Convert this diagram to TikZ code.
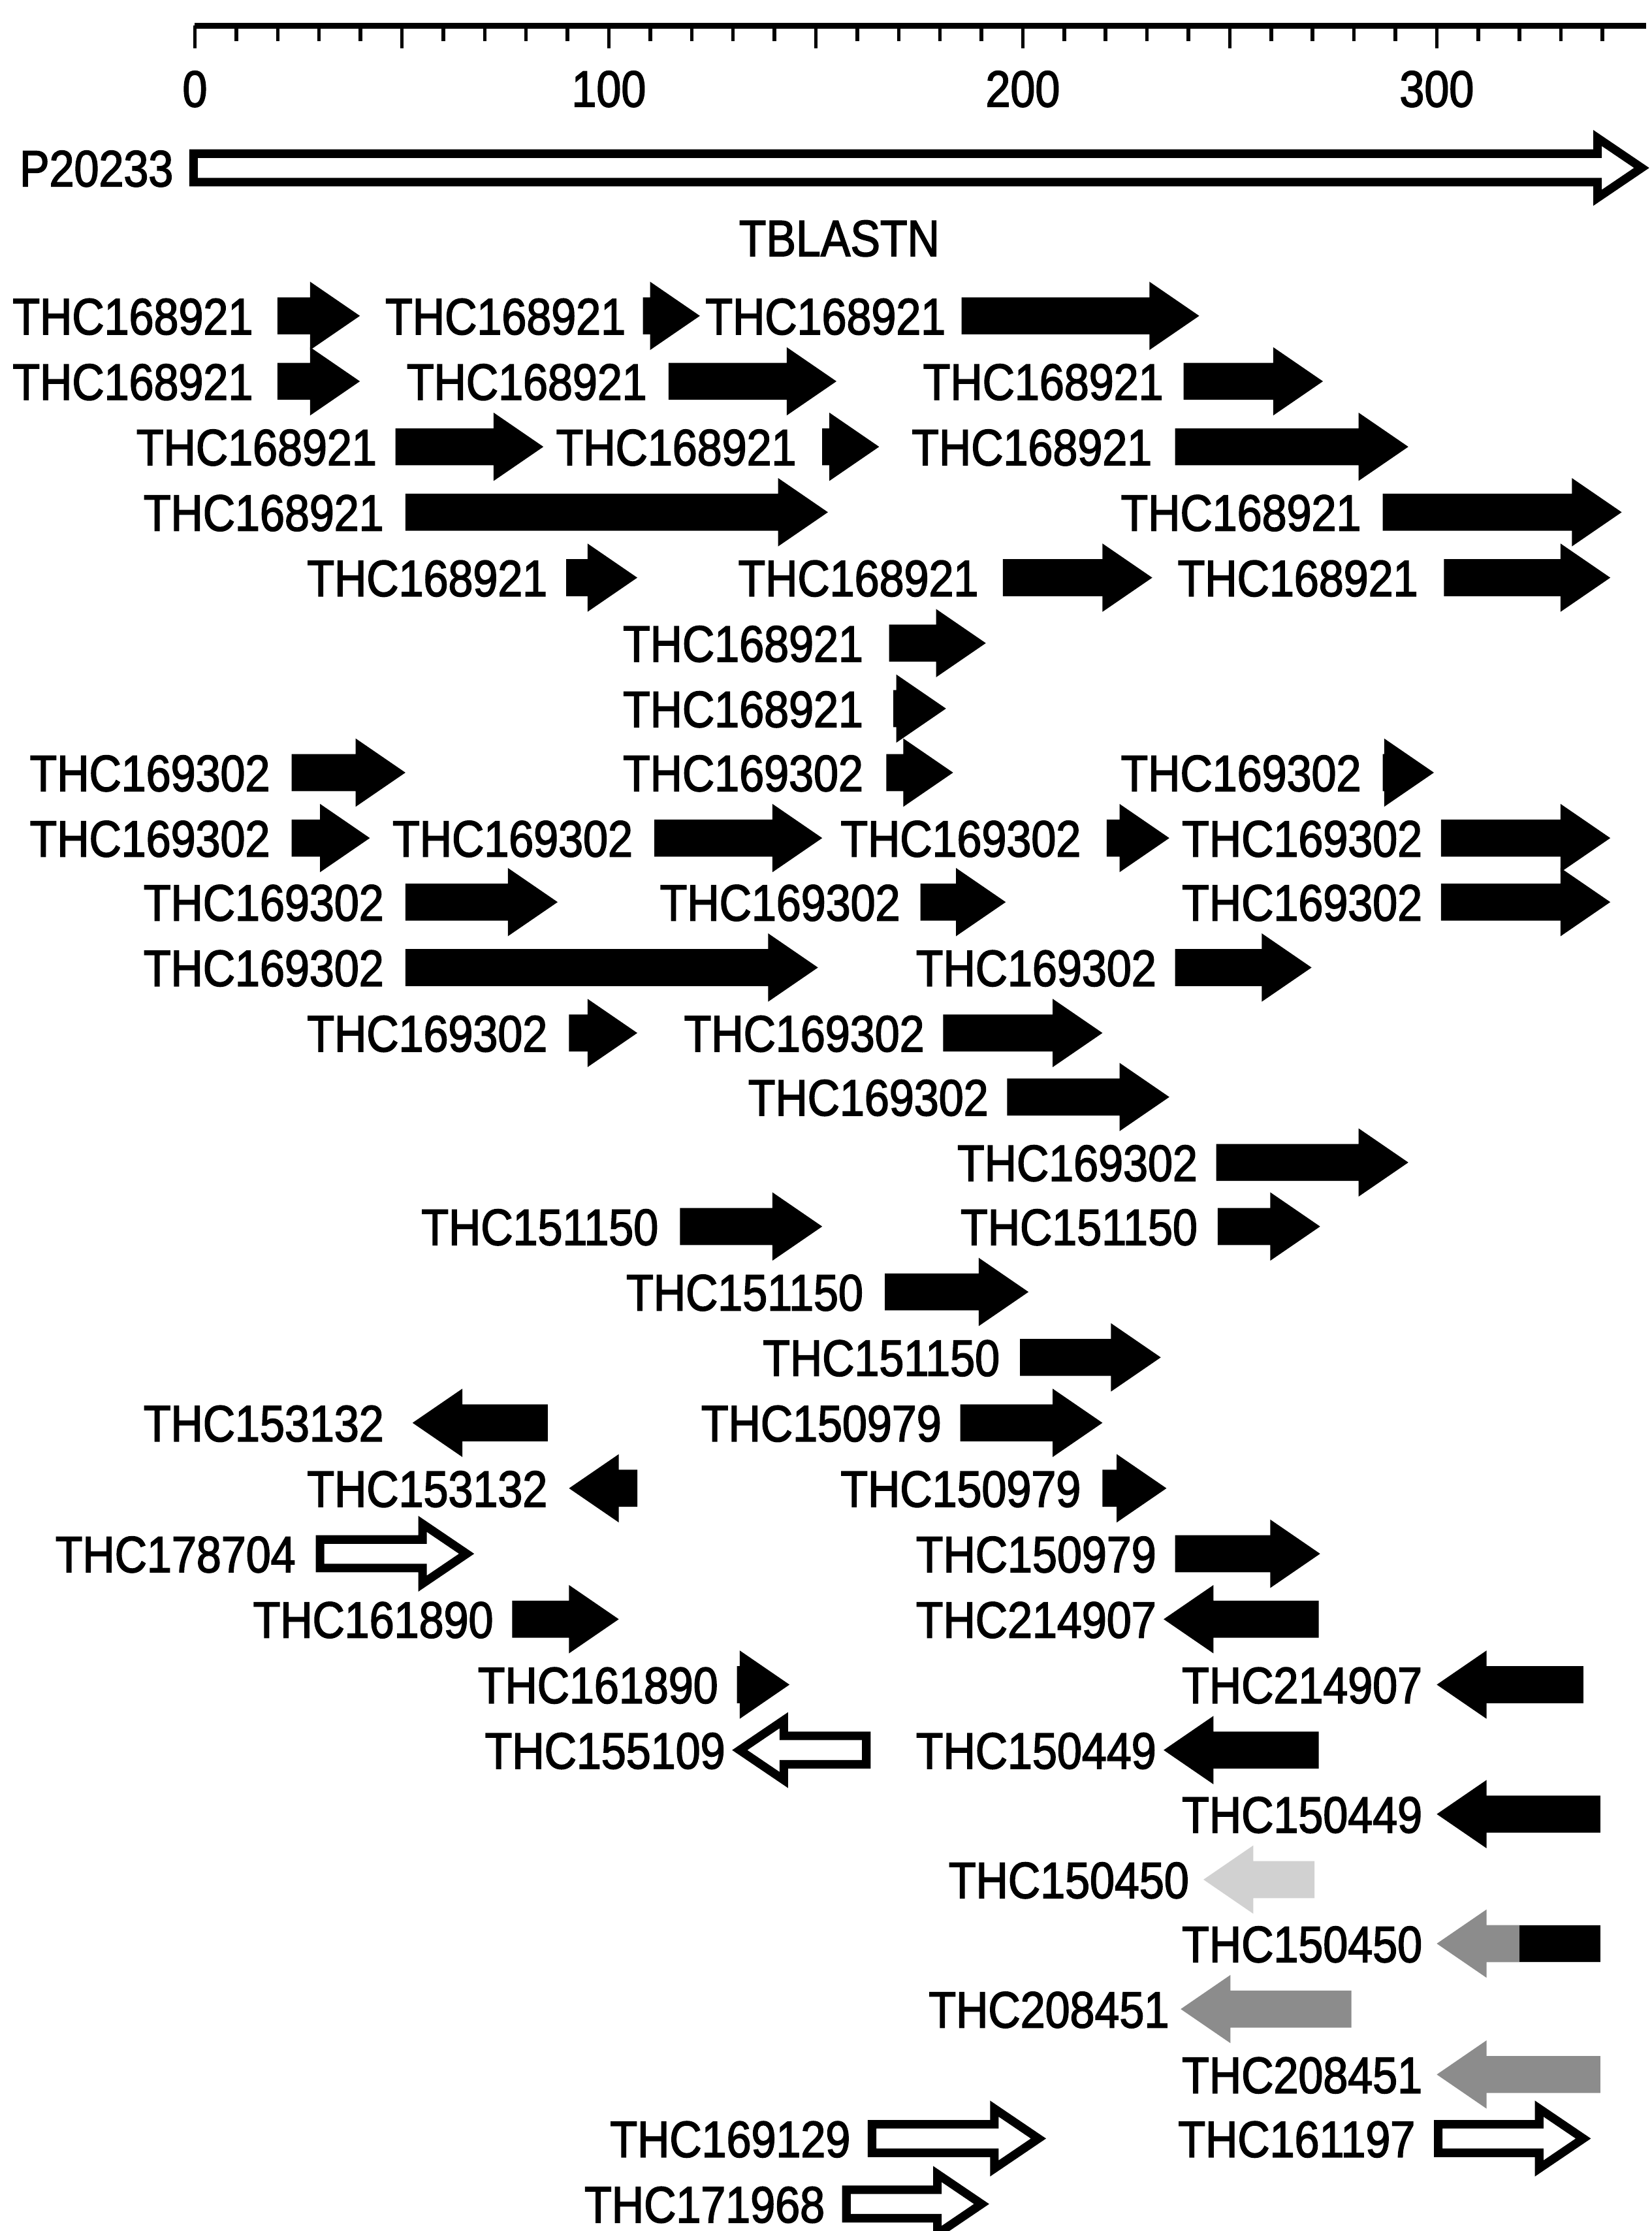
\documentclass[tikz,border=0pt]{standalone}
\usepackage{fontspec}
\setmainfont{Liberation Sans}[FakeStretch=0.87,FakeBold=2]
\tikzset{
  lbl/.style={anchor=east, inner sep=0pt, text height=26pt, text depth=0pt, font=\fontsize{36}{40}\selectfont},
  axlbl/.style={anchor=center, inner sep=0pt, text height=26pt, text depth=0pt, font=\fontsize{36}{40}\selectfont},
  solidarr/.style={fill=black},
  lightarr/.style={fill=black!18},
  greyarr/.style={fill=black!45},
  openarr/.style={draw=black, fill=white, line width=6pt, miter limit=10},
  axisline/.style={line width=4pt},
  tickline/.style={line width=2.5pt}
}
% right-pointing filled arrow: y, x start, x tip
\newcommand\RA[4][solidarr]{%
  \pgfmathsetmacro\hs{max(#3,#4-35)}%
  \path[#1] (#3,#2-13) -- (\hs,#2-13) -- (\hs,#2-24) -- (#4,#2) -- (\hs,#2+24) -- (\hs,#2+13) -- (#3,#2+13) -- cycle;}
% left-pointing filled arrow: y, x tip, x tail
\newcommand\LA[4][solidarr]{%
  \pgfmathsetmacro\hs{min(#4,#3+35)}%
  \path[#1] (#4,#2-13) -- (\hs,#2-13) -- (\hs,#2-24) -- (#3,#2) -- (\hs,#2+24) -- (\hs,#2+13) -- (#4,#2+13) -- cycle;}
% right-pointing open arrow
\newcommand\RO[3]{%
  \pgfmathsetmacro\hs{#3-36}%
  \path[openarr] (#2+3,#1-10) -- (\hs,#1-10) -- (\hs,#1-21) -- (#3-5,#1) -- (\hs,#1+21) -- (\hs,#1+10) -- (#2+3,#1+10) -- cycle;}
% left-pointing open arrow
\newcommand\LO[3]{%
  \pgfmathsetmacro\hs{#2+36}%
  \path[openarr] (#3-3,#1-10) -- (\hs,#1-10) -- (\hs,#1-21) -- (#2+5,#1) -- (\hs,#1+21) -- (\hs,#1+10) -- (#3-3,#1+10) -- cycle;}
\newcommand\LB[4]{\node[lbl] (#1) at (#2,#3) {#4};}
\begin{document}
\begin{tikzpicture}[x=1pt,y=-1pt]
\useasboundingbox[fill=white] (0,0) rectangle (1161,1568);
% scale
\draw[axisline] (137,18) -- (1157,18);
\foreach \k in {0,...,34}{
  \pgfmathsetmacro\tx{137+29.1*\k}
  \pgfmathtruncatemacro\md{mod(\k,5)}
  \ifnum\md=0 \draw[tickline] (\tx,18) -- (\tx,34); \else \draw[tickline] (\tx,18) -- (\tx,29); \fi
}
\node[axlbl] (t0) at (137,62) {0};
\node[axlbl] (t100) at (428,62) {100};
\node[axlbl] (t200) at (719,62) {200};
\node[axlbl] (t300) at (1010,62) {300};
% query
\LB{p}{122}{118}{P20233}
\RO{118}{133}{1159}
\node[axlbl] (tb) at (590,167) {TBLASTN};
% row 1
\LB{r1a}{178}{222}{THC168921} \RA{222}{195}{253}
\LB{r1b}{440}{222}{THC168921} \RA{222}{452}{492}
\LB{r1c}{665}{222}{THC168921} \RA{222}{676}{843}
% row 2
\LB{r2a}{178}{268}{THC168921} \RA{268}{195}{253}
\LB{r2b}{455}{268}{THC168921} \RA{268}{470}{588}
\LB{r2c}{818}{268}{THC168921} \RA{268}{832}{930}
% row 3
\LB{r3a}{265}{314}{THC168921} \RA{314}{278}{382}
\LB{r3b}{560}{314}{THC168921} \RA{314}{578}{618}
\LB{r3c}{810}{314}{THC168921} \RA{314}{826}{990}
% row 4
\LB{r4a}{270}{360}{THC168921} \RA{360}{285}{582}
\LB{r4b}{957}{360}{THC168921} \RA{360}{972}{1140}
% row 5
\LB{r5a}{385}{406}{THC168921} \RA{406}{398}{448}
\LB{r5b}{688}{406}{THC168921} \RA{406}{705}{810}
\LB{r5c}{997}{406}{THC168921} \RA{406}{1015}{1132}
% row 6, 7
\LB{r6a}{607}{452}{THC168921} \RA{452}{625}{693}
\LB{r7a}{607}{498}{THC168921} \RA{498}{628}{665}
% row 8
\LB{r8a}{190}{543}{THC169302} \RA{543}{205}{285}
\LB{r8b}{607}{543}{THC169302} \RA{543}{623}{670}
\LB{r8c}{957}{543}{THC169302} \RA{543}{972}{1008}
% row 9
\LB{r9a}{190}{589}{THC169302} \RA{589}{205}{260}
\LB{r9b}{445}{589}{THC169302} \RA{589}{460}{578}
\LB{r9c}{760}{589}{THC169302} \RA{589}{778}{822}
\LB{r9d}{1000}{589}{THC169302} \RA{589}{1013}{1132}
% row 10
\LB{r10a}{270}{634}{THC169302} \RA{634}{285}{392}
\LB{r10b}{633}{634}{THC169302} \RA{634}{647}{707}
\LB{r10c}{1000}{634}{THC169302} \RA{634}{1013}{1132}
% row 11
\LB{r11a}{270}{680}{THC169302} \RA{680}{285}{575}
\LB{r11b}{813}{680}{THC169302} \RA{680}{826}{922}
% row 12
\LB{r12a}{385}{726}{THC169302} \RA{726}{400}{448}
\LB{r12b}{650}{726}{THC169302} \RA{726}{663}{775}
% row 13, 14
\LB{r13a}{695}{771}{THC169302} \RA{771}{708}{822}
\LB{r14a}{842}{817}{THC169302} \RA{817}{855}{990}
% row 15
\LB{r15a}{463}{862}{THC151150} \RA{862}{478}{578}
\LB{r15b}{842}{862}{THC151150} \RA{862}{856}{928}
% row 16, 17
\LB{r16a}{607}{908}{THC151150} \RA{908}{622}{723}
\LB{r17a}{703}{954}{THC151150} \RA{954}{717}{816}
% row 18
\LB{r18a}{270}{1000}{THC153132} \LA{1000}{290}{385}
\LB{r18b}{662}{1000}{THC150979} \RA{1000}{675}{775}
% row 19
\LB{r19a}{385}{1046}{THC153132} \LA{1046}{400}{448}
\LB{r19b}{760}{1046}{THC150979} \RA{1046}{775}{820}
% row 20
\LB{r20a}{208}{1092}{THC178704} \RO{1092}{222}{333}
\LB{r20b}{813}{1092}{THC150979} \RA{1092}{826}{928}
% row 21
\LB{r21a}{347}{1138}{THC161890} \RA{1138}{360}{435}
\LB{r21b}{813}{1138}{THC214907} \LA{1138}{818}{927}
% row 22
\LB{r22a}{505}{1184}{THC161890} \RA{1184}{518}{555}
\LB{r22b}{1000}{1184}{THC214907} \LA{1184}{1010}{1113}
% row 23
\LB{r23a}{510}{1230}{THC155109} \LO{1230}{515}{612}
\LB{r23b}{813}{1230}{THC150449} \LA{1230}{818}{927}
% row 24
\LB{r24a}{1000}{1275}{THC150449} \LA{1275}{1010}{1125}
% row 25
\LB{r25a}{836}{1321}{THC150450} \LA[lightarr]{1321}{846}{924}
% row 26
\LB{r26a}{1000}{1366}{THC150450} \LA[greyarr]{1366}{1010}{1125}
\fill[black] (1068,1353) rectangle (1125,1379);
% row 27, 28
\LB{r27a}{822}{1412}{THC208451} \LA[greyarr]{1412}{830}{950}
\LB{r28a}{1000}{1458}{THC208451} \LA[greyarr]{1458}{1010}{1125}
% row 29
\LB{r29a}{598}{1503}{THC169129} \RO{1503}{610}{735}
\LB{r29b}{995}{1503}{THC161197} \RO{1503}{1008}{1118}
% row 30
\LB{r30a}{580}{1549}{THC171968} \RO{1549}{592}{695}
\end{tikzpicture}
\end{document}
